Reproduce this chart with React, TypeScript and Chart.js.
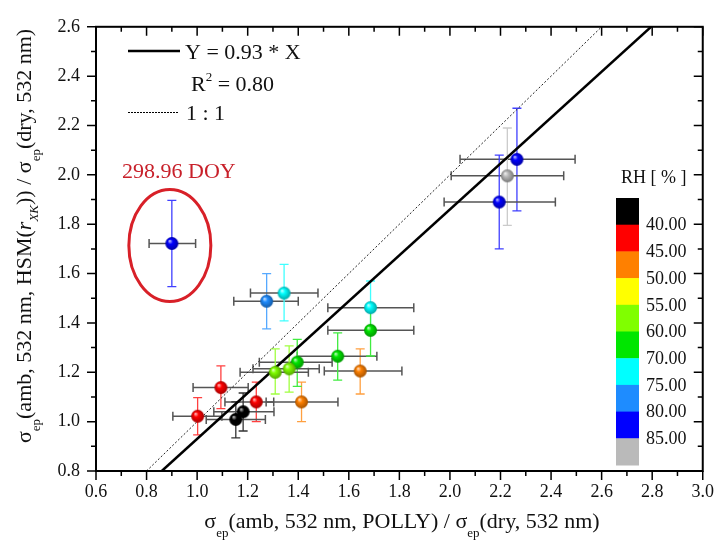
import React, { useEffect, useRef } from "react";
import { Chart, registerables } from "chart.js";
Chart.register(...registerables);

// ---- data ----
const xVals = [0.90, 2.265, 2.227, 2.195, 1.094, 1.002, 1.234, 1.153, 1.182, 1.413, 1.645, 1.556, 1.396, 1.309, 1.364, 1.686, 1.686, 1.275, 1.344];
const yVals = [1.722, 2.063, 1.996, 1.89, 1.138, 1.022, 1.080, 1.009, 1.04, 1.08, 1.205, 1.265, 1.241, 1.2, 1.214, 1.462, 1.37, 1.488, 1.521];
const xLow = [0.81, 2.04, 2.005, 1.977, 0.984, 0.904, 1.11, 1.036, 1.066, 1.273, 1.503, 1.396, 1.246, 1.17, 1.221, 1.517, 1.517, 1.145, 1.211];
const xHigh = [0.994, 2.495, 2.45, 2.417, 1.202, 1.098, 1.303, 1.27, 1.304, 1.557, 1.81, 1.711, 1.534, 1.44, 1.483, 1.857, 1.857, 1.40, 1.478];
const yLow = [1.547, 1.854, 1.795, 1.70, 1.053, 0.946, 1.0, 0.934, 0.962, 1.0, 1.112, 1.168, 1.143, 1.112, 1.12, 1.37, 1.266, 1.376, 1.408];
const yHigh = [1.897, 2.27, 2.19, 2.08, 1.226, 1.097, 1.16, 1.08, 1.116, 1.16, 1.295, 1.36, 1.333, 1.295, 1.307, 1.57, 1.463, 1.60, 1.637];
// RH class index of each point (index into rhColors)
const rhClass = [8, 8, 9, 8, 1, 1, 1, 0, 0, 2, 2, 5, 5, 4, 4, 6, 5, 7, 6];

const rhColors = ["#000000", "#ff0000", "#ff8000", "#ffff00", "#80ff00", "#00e600", "#00ffff", "#1e8cff", "#0000ff", "#bababa"];
const rhLabels = ["40.00", "45.00", "50.00", "55.00", "60.00", "70.00", "75.00", "80.00", "85.00"];

const fitSlope = 0.93;
const fitR2 = "0.80";
const doyLabel = "298.96 DOY";
const doyIndex = 0;

const xTicks = { min: 0.6, max: 3.0, step: 0.2 };
const yTicks = { min: 0.8, max: 2.6, step: 0.2 };

const SERIF = '"Liberation Serif", "Times New Roman", serif';

function hexToRgb(h: string) {
  const n = parseInt(h.slice(1), 16);
  return [(n >> 16) & 255, (n >> 8) & 255, n & 255];
}
function mix(h: string, t: string, a: number) {
  const c = hexToRgb(h), d = hexToRgb(t);
  const r = c.map((v, i) => Math.round(v * (1 - a) + d[i] * a));
  return `rgb(${r[0]},${r[1]},${r[2]})`;
}

function sphere(color: string, r: number) {
  const c = document.createElement("canvas");
  const s = Math.ceil(r * 2 + 2);
  c.width = s;
  c.height = s;
  const g = c.getContext("2d")!;
  const cx = s / 2, cy = s / 2;
  const grad = g.createRadialGradient(cx - r * 0.35, cy - r * 0.4, r * 0.05, cx, cy, r);
  grad.addColorStop(0, mix(color, "#ffffff", 0.75));
  grad.addColorStop(0.35, color);
  grad.addColorStop(1, mix(color, "#000000", 0.35));
  g.fillStyle = grad;
  g.beginPath();
  g.arc(cx, cy, r, 0, Math.PI * 2);
  g.fill();
  return c;
}

type Seg = { t: string; size: number; dy?: number; italic?: boolean };
function richWidth(ctx: CanvasRenderingContext2D, segs: Seg[]) {
  let w = 0;
  for (const s of segs) {
    ctx.font = `${s.italic ? "italic " : ""}${s.size}px ${SERIF}`;
    w += ctx.measureText(s.t).width;
  }
  return w;
}
function drawRich(ctx: CanvasRenderingContext2D, segs: Seg[], x: number, y: number, align: "left" | "center") {
  const w = richWidth(ctx, segs);
  let cx = align === "center" ? x - w / 2 : x;
  ctx.textAlign = "left";
  ctx.textBaseline = "alphabetic";
  for (const s of segs) {
    ctx.font = `${s.italic ? "italic " : ""}${s.size}px ${SERIF}`;
    ctx.fillText(s.t, cx, y + (s.dy || 0));
    cx += ctx.measureText(s.t).width;
  }
}

const decorPlugin = {
  id: "decor",
  beforeDatasetsDraw(chart: any) {
    const ctx = chart.ctx as CanvasRenderingContext2D;
    const xs = chart.scales.x, ys = chart.scales.y;
    ctx.save();
    const cap = 4.5;
    for (let i = 0; i < xVals.length; i++) {
      const px = xs.getPixelForValue(xVals[i]);
      const py = ys.getPixelForValue(yVals[i]);
      const col = rhColors[rhClass[i]];
      // vertical
      const vcol = rhClass[i] === 0 ? "#333333" : mix(col, "#ffffff", 0.25);
      const y1 = ys.getPixelForValue(yLow[i]), y2 = ys.getPixelForValue(yHigh[i]);
      ctx.strokeStyle = vcol;
      ctx.lineWidth = 1.3;
      ctx.beginPath();
      ctx.moveTo(px, y1); ctx.lineTo(px, y2);
      ctx.moveTo(px - cap, y1); ctx.lineTo(px + cap, y1);
      ctx.moveTo(px - cap, y2); ctx.lineTo(px + cap, y2);
      ctx.stroke();
      // horizontal
      const x1 = xs.getPixelForValue(xLow[i]), x2 = xs.getPixelForValue(xHigh[i]);
      ctx.strokeStyle = "#555555";
      ctx.lineWidth = 1.5;
      ctx.beginPath();
      ctx.moveTo(x1, py); ctx.lineTo(x2, py);
      ctx.moveTo(x1, py - cap); ctx.lineTo(x1, py + cap);
      ctx.moveTo(x2, py - cap); ctx.lineTo(x2, py + cap);
      ctx.stroke();
    }
    ctx.restore();
  },
  afterDraw(chart: any) {
    const ctx = chart.ctx as CanvasRenderingContext2D;
    const a = chart.chartArea;
    const xs = chart.scales.x, ys = chart.scales.y;
    ctx.save();
    // frame
    ctx.strokeStyle = "#000";
    ctx.lineWidth = 2;
    ctx.strokeRect(a.left, a.top, a.right - a.left, a.bottom - a.top);
    // ticks
    ctx.lineWidth = 1.5;
    ctx.beginPath();
    const nx = Math.round((xTicks.max - xTicks.min) / (xTicks.step / 2));
    for (let i = 0; i <= nx; i++) {
      const v = xTicks.min + (i * xTicks.step) / 2;
      const p = xs.getPixelForValue(v);
      const L = i % 2 === 0 ? 9 : 5;
      ctx.moveTo(p, a.bottom); ctx.lineTo(p, a.bottom + L);
      ctx.moveTo(p, a.top); ctx.lineTo(p, a.top + L);
    }
    const ny = Math.round((yTicks.max - yTicks.min) / (yTicks.step / 2));
    for (let i = 0; i <= ny; i++) {
      const v = yTicks.min + (i * yTicks.step) / 2;
      const p = ys.getPixelForValue(v);
      const L = i % 2 === 0 ? 9 : 5;
      ctx.moveTo(a.left, p); ctx.lineTo(a.left - L, p);
      ctx.moveTo(a.right, p); ctx.lineTo(a.right - L, p);
    }
    ctx.stroke();

    // axis titles
    ctx.fillStyle = "#111";
    drawRich(ctx, [
      { t: "σ", size: 22 }, { t: "ep", size: 13, dy: 9 },
      { t: "(amb, 532 nm, POLLY) / σ", size: 22 }, { t: "ep", size: 13, dy: 9 },
      { t: "(dry, 532 nm)", size: 22 },
    ], 402, 528, "center");
    ctx.save();
    ctx.translate(31, 236);
    ctx.rotate(-Math.PI / 2);
    drawRich(ctx, [
      { t: "σ", size: 22 }, { t: "ep", size: 13, dy: 9 },
      { t: "(amb, 532 nm, HSM(", size: 22 }, { t: "r", size: 22, italic: true },
      { t: "XK", size: 13, dy: 7, italic: true },
      { t: ")) / σ", size: 22 }, { t: "ep", size: 13, dy: 9 },
      { t: "(dry, 532 nm)", size: 22 },
    ], 0, 0, "center");
    ctx.restore();

    // legend
    ctx.strokeStyle = "#000";
    ctx.lineWidth = 2.5;
    ctx.beginPath(); ctx.moveTo(128, 51); ctx.lineTo(180, 51); ctx.stroke();
    ctx.lineWidth = 1;
    ctx.setLineDash([2, 1]);
    ctx.beginPath(); ctx.moveTo(128, 112.5); ctx.lineTo(179, 112.5); ctx.stroke();
    ctx.setLineDash([]);
    ctx.fillStyle = "#111";
    drawRich(ctx, [{ t: `Y = ${fitSlope} * X`, size: 22 }], 185, 59, "left");
    drawRich(ctx, [{ t: "R", size: 22 }, { t: "2", size: 13, dy: -10 }, { t: ` = ${fitR2}`, size: 22 }], 191, 91, "left");
    drawRich(ctx, [{ t: "1 : 1", size: 22 }], 186, 120, "left");

    // DOY annotation
    const dx = xs.getPixelForValue(xVals[doyIndex]);
    const dy = ys.getPixelForValue(yVals[doyIndex]);
    ctx.strokeStyle = "#d82028";
    ctx.lineWidth = 3;
    ctx.beginPath();
    ctx.ellipse(dx - 2, dy + 2, 41, 56, 0, 0, Math.PI * 2);
    ctx.stroke();
    ctx.fillStyle = "#c8202a";
    drawRich(ctx, [{ t: doyLabel, size: 22 }], 122, 178, "left");

    // colorbar
    const cbL = 616, cbR = 639, cbT = 198, cbB = 465;
    const h = (cbB - cbT) / rhColors.length;
    rhColors.forEach((c, i) => {
      ctx.fillStyle = c;
      ctx.fillRect(cbL, cbT + i * h, cbR - cbL, h + 0.5);
    });
    ctx.fillStyle = "#111";
    ctx.font = `18px ${SERIF}`;
    ctx.textBaseline = "middle";
    ctx.textAlign = "left";
    rhLabels.forEach((l, i) => {
      ctx.fillText(l, 646, cbT + (i + 1) * h + 1);
    });
    ctx.fillText("RH [ % ]", 621, 178);
    ctx.restore();
  },
};

export default function App() {
  const ref = useRef<HTMLCanvasElement>(null);
  useEffect(() => {
    const sprites = rhClass.map((k) => sphere(rhColors[k], 6.5));
    const pts = xVals.map((x, i) => ({ x, y: yVals[i] }));
    const oneLo = Math.max(xTicks.min, yTicks.min);
    const oneHi = Math.min(xTicks.max, yTicks.max);
    const chart = new Chart(ref.current!, {
      type: "scatter",
      data: {
        datasets: [
          {
            data: pts,
            pointStyle: (c: any) => sprites[c.dataIndex] as any,
            pointRadius: 6.5,
            showLine: false,
          } as any,
          {
            type: "line",
            data: [{ x: yTicks.min / fitSlope, y: yTicks.min }, { x: yTicks.max / fitSlope, y: yTicks.max }],
            borderColor: "#000",
            borderWidth: 2.5,
            pointRadius: 0,
            fill: false,
          } as any,
          {
            type: "line",
            data: [{ x: oneLo, y: oneLo }, { x: oneHi, y: oneHi }],
            borderColor: "#222",
            borderWidth: 1,
            borderDash: [2, 2],
            pointRadius: 0,
            fill: false,
          } as any,
        ],
      },
      options: {
        animation: false,
        responsive: false,
        events: [],
        layout: { padding: { left: 0, right: 11, top: 15, bottom: 0 } },
        plugins: { legend: { display: false }, tooltip: { enabled: false } },
        scales: {
          x: {
            type: "linear",
            min: xTicks.min,
            max: xTicks.max,
            grid: { display: false, drawTicks: false },
            border: { display: false },
            ticks: {
              stepSize: xTicks.step,
              padding: 10,
              color: "#111",
              font: { family: SERIF, size: 18 },
              callback: (v: any) => Number(v).toFixed(1),
            },
            afterFit: (s: any) => { s.height = 79; },
          },
          y: {
            type: "linear",
            min: yTicks.min,
            max: yTicks.max,
            grid: { display: false, drawTicks: false },
            border: { display: false },
            ticks: {
              stepSize: yTicks.step,
              padding: 16,
              color: "#111",
              font: { family: SERIF, size: 18 },
              callback: (v: any) => Number(v).toFixed(1),
            },
            afterFit: (s: any) => { s.width = 96; },
          },
        },
      },
      plugins: [decorPlugin],
    });
    return () => chart.destroy();
  }, []);
  return (
    <div style={{ position: "absolute", left: 0, top: 0, width: 724, height: 550, background: "#fff" }}>
      <canvas ref={ref} width={724} height={550} style={{ display: "block" }} />
    </div>
  );
}
